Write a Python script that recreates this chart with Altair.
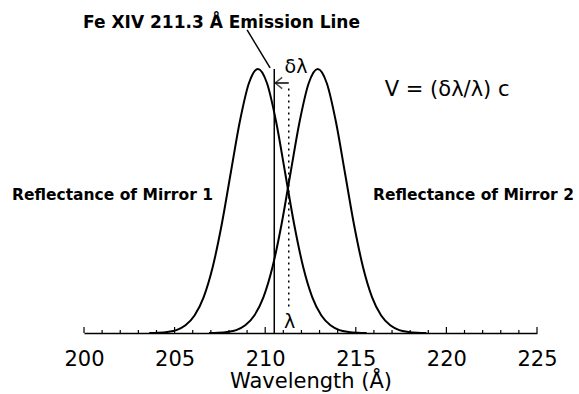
import altair as alt
import pandas as pd

# Reflectance curves
left_x = [203.6, 204.1, 204.6, 205.1, 205.6, 206.1, 206.6, 207.1, 207.6, 208.1, 208.6, 209.1, 209.6,
          210.1, 210.6, 211.1, 211.6, 212.1, 212.6, 213.1, 213.6, 214.1, 214.6, 215.1, 215.6]
right_x = [206.9, 207.4, 207.9, 208.4, 208.9, 209.4, 209.9, 210.4, 210.9, 211.4, 211.9, 212.4, 212.9,
           213.4, 213.9, 214.4, 214.9, 215.4, 215.9, 216.4, 216.9, 217.4, 217.9, 218.4, 218.9]
left_y = [0.000, 0.001, 0.004, 0.011, 0.029, 0.066, 0.135, 0.249, 0.411, 0.607, 0.801, 0.946, 1.000,
          0.946, 0.801, 0.607, 0.411, 0.249, 0.135, 0.066, 0.029, 0.011, 0.004, 0.001, 0.000]
right_y = [0.000, 0.001, 0.004, 0.011, 0.029, 0.066, 0.135, 0.249, 0.411, 0.607, 0.801, 0.946, 1.000,
           0.946, 0.801, 0.607, 0.411, 0.249, 0.135, 0.066, 0.029, 0.011, 0.004, 0.001, 0.000]

major_ticks = [200, 205, 210, 215, 220, 225]
minor_ticks = [201, 202, 203, 204, 206, 207, 208, 209, 211, 212, 213, 214,
               216, 217, 218, 219, 221, 222, 223, 224]

line_obs = 210.5    # observed (shifted) line position
line_rest = 211.3   # rest wavelength

FONT = "DejaVu Sans"

curves = pd.DataFrame(
    {"x": left_x + right_x,
     "y": left_y + right_y,
     "curve": ["Mirror 1"] * len(left_x) + ["Mirror 2"] * len(right_x)}
)

xscale = alt.Scale(domain=[200, 225], nice=False, zero=False)
yscale = alt.Scale(domain=[0, 1], nice=False, zero=False)

base_x = alt.X("x:Q", scale=xscale,
               axis=alt.Axis(values=major_ticks, ticks=False, grid=False,
                             domainColor="black", domainWidth=1.5,
                             labelFont=FONT, labelFontSize=21, labelColor="black",
                             labelPadding=15, labelFlush=False,
                             title="Wavelength (Å)", titleFont=FONT, titleFontSize=21,
                             titleFontWeight="normal", titleColor="black", titlePadding=1))

curve_layer = alt.Chart(curves).mark_line(color="black", strokeWidth=2, interpolate="monotone").encode(
    x=base_x,
    y=alt.Y("y:Q", scale=yscale, axis=None),
    detail="curve:N",
)

ticks_major = alt.Chart(pd.DataFrame({"x": major_ticks})).mark_rule(color="black", strokeWidth=1.2).encode(
    x=alt.X("x:Q", scale=xscale), y=alt.value(264), y2=alt.value(258))
ticks_minor = alt.Chart(pd.DataFrame({"x": minor_ticks})).mark_rule(color="black", strokeWidth=1.2).encode(
    x=alt.X("x:Q", scale=xscale), y=alt.value(264), y2=alt.value(261))

solid_line = alt.Chart(pd.DataFrame({"x": [line_obs], "y": [0.0], "y2": [1.0]})).mark_rule(
    color="black", strokeWidth=1.5).encode(
    x=alt.X("x:Q", scale=xscale), y=alt.Y("y:Q", scale=yscale), y2="y2:Q")

dotted_line = alt.Chart(pd.DataFrame({"x": [line_rest], "y": [0.10], "y2": [0.94]})).mark_rule(
    color="black", strokeWidth=1.5, strokeDash=[2, 4]).encode(
    x=alt.X("x:Q", scale=xscale), y=alt.Y("y:Q", scale=yscale), y2="y2:Q")

arrow_shaft = alt.Chart(pd.DataFrame({"x": [line_obs + 0.05], "x2": [line_rest], "y": [0.947]})).mark_rule(
    color="black", strokeWidth=1.5).encode(
    x=alt.X("x:Q", scale=xscale), x2="x2:Q", y=alt.Y("y:Q", scale=yscale))

arrow_head = alt.Chart(pd.DataFrame({"x": [line_obs + 0.05], "y": [0.947]})).mark_point(
    shape="M0,0L1,-0.8M0,0L1,0.8", size=196, filled=False, color="black", strokeWidth=1.5).encode(
    x=alt.X("x:Q", scale=xscale), y=alt.Y("y:Q", scale=yscale))

leader = alt.Chart(pd.DataFrame({"x": [209.0], "x2": [210.27], "y": [1.148], "y2": [1.004]})).mark_rule(
    color="black", strokeWidth=1.5).encode(
    x=alt.X("x:Q", scale=xscale), x2="x2:Q", y=alt.Y("y:Q", scale=yscale), y2="y2:Q")

labels = pd.DataFrame({
    "x": [199.95, 196.03, 215.95, 216.6],
    "y": [1.174, 0.523, 0.523, 0.92],
    "text": ["Fe XIV 211.3 Å Emission Line", "Reflectance of Mirror 1",
             "Reflectance of Mirror 2", "V = (δλ/λ) c"],
    "size": [17, 15.5, 15.5, 21],
    "weight": ["bold", "bold", "bold", "normal"],
})

text_layers = []
for _, r in labels.iterrows():
    text_layers.append(
        alt.Chart(pd.DataFrame([r])).mark_text(
            align="left", baseline="middle", font=FONT, fontSize=float(r["size"]),
            fontWeight=r["weight"], color="black").encode(
            x=alt.X("x:Q", scale=xscale), y=alt.Y("y:Q", scale=yscale), text="text:N"))

greek = pd.DataFrame({"x": [211.7, 211.35], "y": [1.008, 0.042], "text": ["δλ", "λ"]})
greek_layer = alt.Chart(greek).mark_text(
    align="center", baseline="middle", font=FONT, fontSize=19, color="black").encode(
    x=alt.X("x:Q", scale=xscale), y=alt.Y("y:Q", scale=yscale), text="text:N")

chart = alt.layer(
    curve_layer, ticks_major, ticks_minor, solid_line, dotted_line, arrow_shaft, arrow_head,
    leader, greek_layer, *text_layers
).properties(
    width=453, height=264,
    autosize=alt.AutoSizeParams(type="none"),
    padding={"left": 84, "top": 69, "right": 42, "bottom": 61},
    background="white",
).configure_view(stroke=None)

chart.save("out.html", embed_options={"renderer": "svg", "actions": False})
